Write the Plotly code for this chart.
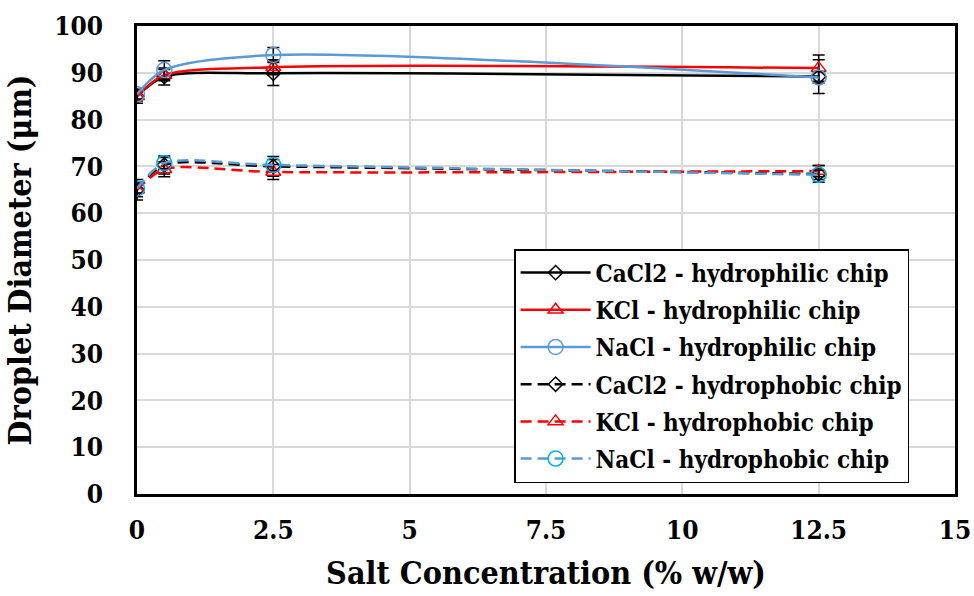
import plotly.graph_objects as go

x_conc = [0, 0.5, 2.5, 12.5]

cacl2_phil = [85.0, 89.2, 89.9, 89.2]
kcl_phil = [85.0, 89.5, 91.2, 91.0]
nacl_phil = [85.4, 90.6, 93.8, 89.0]
cacl2_phob = [65.0, 70.3, 70.0, 68.4]
kcl_phob = [65.0, 69.4, 68.8, 69.0]
nacl_phob = [65.3, 70.7, 70.3, 68.2]

cacl2_phil_err = [1.5, 1.8, 2.6, 3.6]
kcl_phil_err = [1.0, 1.2, 1.6, 2.8]
nacl_phil_err = [1.0, 2.0, 1.6, 1.2]
cacl2_phob_err = [2.2, 1.9, 2.1, 1.8]
kcl_phob_err = [1.5, 1.6, 1.6, 1.2]
nacl_phob_err = [1.0, 1.2, 1.2, 1.0]

names = [
    "CaCl2 - hydrophilic chip",
    "KCl - hydrophilic chip",
    "NaCl - hydrophilic chip",
    "CaCl2 - hydrophobic chip",
    "KCl - hydrophobic chip",
    "NaCl - hydrophobic chip",
]

x_tickvals = [0, 2.5, 5, 7.5, 10, 12.5, 15]
x_ticktext = ["0", "2.5", "5", "7.5", "10", "12.5", "15"]
y_tickvals = [0, 10, 20, 30, 40, 50, 60, 70, 80, 90, 100]

series = [
    (cacl2_phil, cacl2_phil_err, "#000000", "#000000", "diamond-open", 11, "solid"),
    (kcl_phil, kcl_phil_err, "#FF0000", "#FF0000", "triangle-up-open", 13, "solid"),
    (nacl_phil, nacl_phil_err, "#5B9BD5", "#5B9BD5", "circle-open", 15, "solid"),
    (cacl2_phob, cacl2_phob_err, "#000000", "#000000", "diamond-open", 11, "11px,6px"),
    (kcl_phob, kcl_phob_err, "#FF0000", "#FF0000", "triangle-up-open", 13, "11px,6px"),
    (nacl_phob, nacl_phob_err, "#5B9BD5", "#00B0F0", "circle-open", 15, "11px,6px"),
]

fig = go.Figure()
for i, (yv, ev, lc, mc, sym, sz, dash) in enumerate(series):
    fig.add_trace(go.Scatter(
        x=x_conc, y=yv, name=names[i], mode="lines+markers",
        legendgroup=f"g{i}",
        line=dict(color=lc, width=2.5, dash=dash, shape="spline", smoothing=0.8),
        marker=dict(symbol=sym, size=sz, color=mc, line=dict(width=1.5, color=mc)),
        error_y=dict(type="data", array=ev, visible=True, color="#000000",
                     thickness=1.5, width=6),
    ))

font_family = "DejaVu Serif Condensed"
fig.update_layout(
    width=974, height=596,
    margin=dict(l=137, r=19, t=26, b=102, autoexpand=False),
    paper_bgcolor="white", plot_bgcolor="white",
    font=dict(family=font_family, color="black"),
    showlegend=True,
    legend=dict(
        x=0.461, y=0.0235, xanchor="left", yanchor="bottom",
        bgcolor="white", bordercolor="black", borderwidth=1.5,
        font=dict(family=font_family, size=24, color="black", weight="bold"),
        itemwidth=70, tracegroupgap=3,
    ),
    xaxis=dict(
        range=[0, 15], tickvals=x_tickvals, ticktext=x_ticktext,
        showgrid=True, gridcolor="#D9D9D9", gridwidth=1.5, zeroline=False,
        showline=True, linecolor="black", linewidth=2.5, mirror=True,
        ticks="", ticklabelstandoff=11,
        tickfont=dict(family=font_family, size=26, weight="bold"),
        title=dict(text="Salt Concentration (% w/w)", standoff=18,
                   font=dict(family=font_family, size=32, weight="bold")),
    ),
    yaxis=dict(
        range=[0, 100], tickvals=y_tickvals,
        showgrid=True, gridcolor="#D9D9D9", gridwidth=1.5, zeroline=False,
        showline=True, linecolor="black", linewidth=2.5, mirror=True,
        ticks="", ticklabelstandoff=26,
        tickfont=dict(family=font_family, size=26, weight="bold"),
        title=dict(text="Droplet Diameter (μm)", standoff=14,
                   font=dict(family=font_family, size=32, weight="bold")),
    ),
)

fig.write_html("out.html")
